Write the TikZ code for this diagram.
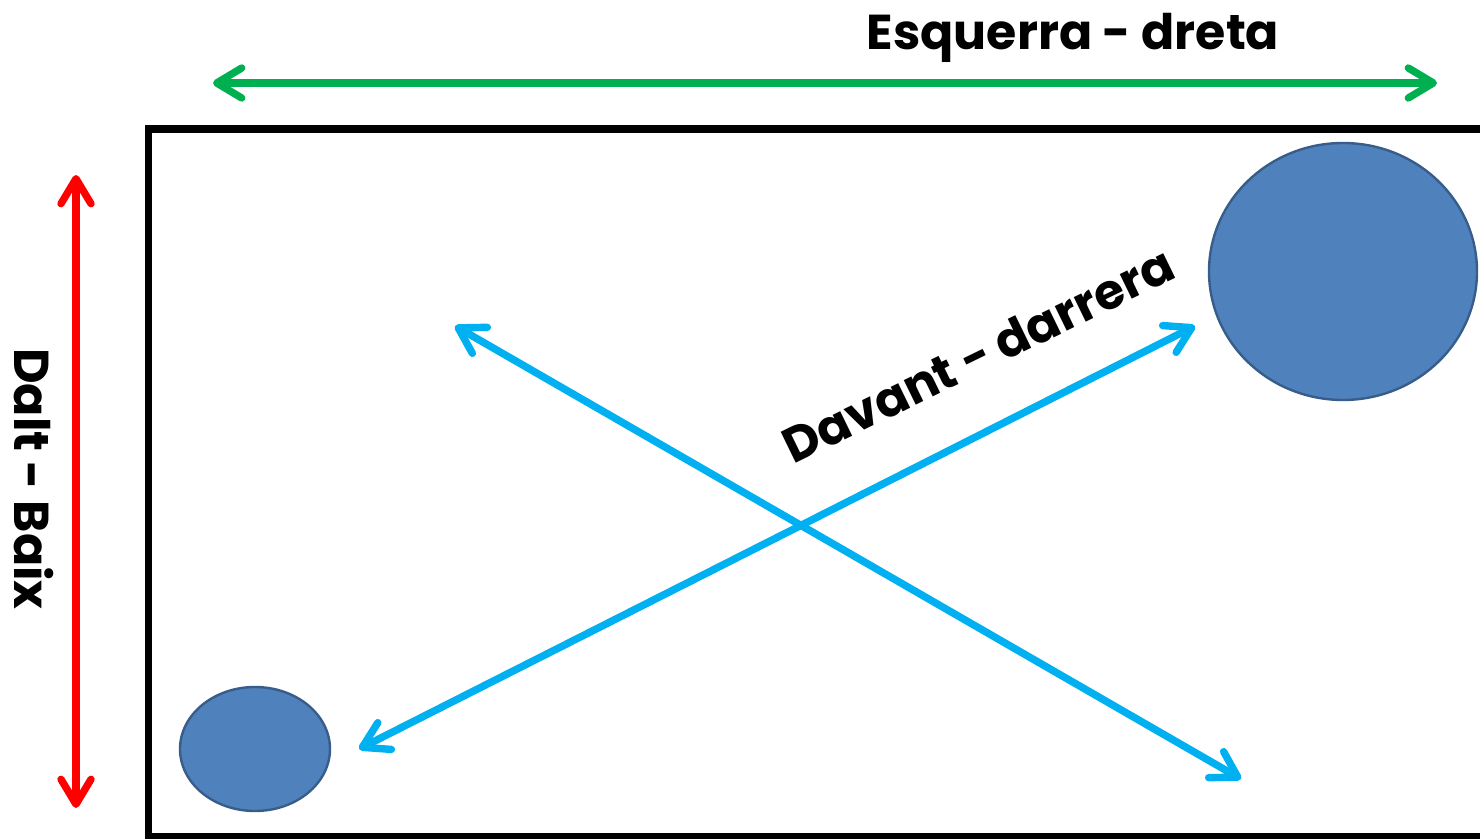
\documentclass[tikz,border=0pt]{standalone}
\usepackage{fontspec}
\setmainfont{Poppins}
\usetikzlibrary{arrows.meta}
\definecolor{verd}{HTML}{00B050}
\definecolor{vermell}{HTML}{FF0000}
\definecolor{cel}{HTML}{00B0F0}
\definecolor{blau}{HTML}{4F81BD}
\definecolor{vora}{HTML}{385D8A}
\begin{document}
\begin{tikzpicture}[x=0.5pt, y=-0.5pt, line join=round, line cap=round,
  fletxa/.style={line width=3.7pt, {punta}-{punta}},
  rotul/.style={font=\fontsize{24.5}{30}\selectfont\bfseries, inner sep=0pt},
  bola/.style={draw=vora, fill=blau, line width=1.2pt}]
\tikzset{punta/.tip={Straight Barb[length=12.5pt, width=15pt, line cap=round, line join=round]}}
\useasboundingbox (0,0) rectangle (1480,839);
% caixa
\begin{scope}
\clip (0,0) rectangle (1480,839);
\draw[line width=3.6pt, line cap=butt, line join=miter] (148.5,129) rectangle (1500,837);
\end{scope}
% boles
\draw[bola] (255,749) ellipse [x radius=75, y radius=62];
\draw[bola] (1343,271.5) ellipse [x radius=134, y radius=128.5];
% extrems de les fletxes
\coordinate (esqA) at (213,83);   \coordinate (esqB) at (1437,83);
\coordinate (altA) at (76,175);   \coordinate (altB) at (76,808);
\coordinate (crA) at (455,326);   \coordinate (crB) at (1241,779);
\coordinate (cbA) at (359,749);   \coordinate (cbB) at (1195,326);
\draw[fletxa, verd] (esqA) -- (esqB);
\draw[fletxa, vermell] (altA) -- (altB);
\draw[fletxa, cel] (crA) -- (crB);
\draw[fletxa, cel] (cbA) -- (cbB);
% textos
\node[rotul, anchor=base] (esqdre) at (1073,50) {Esquerra - dreta};
\node[rotul, anchor=base, rotate=-90] (daltbaix) at (15,479) {Dalt - Baix};
\node[rotul, anchor=base, rotate=26] (davdar) at (986,371) {Davant - darrera};
\end{tikzpicture}
\end{document}
